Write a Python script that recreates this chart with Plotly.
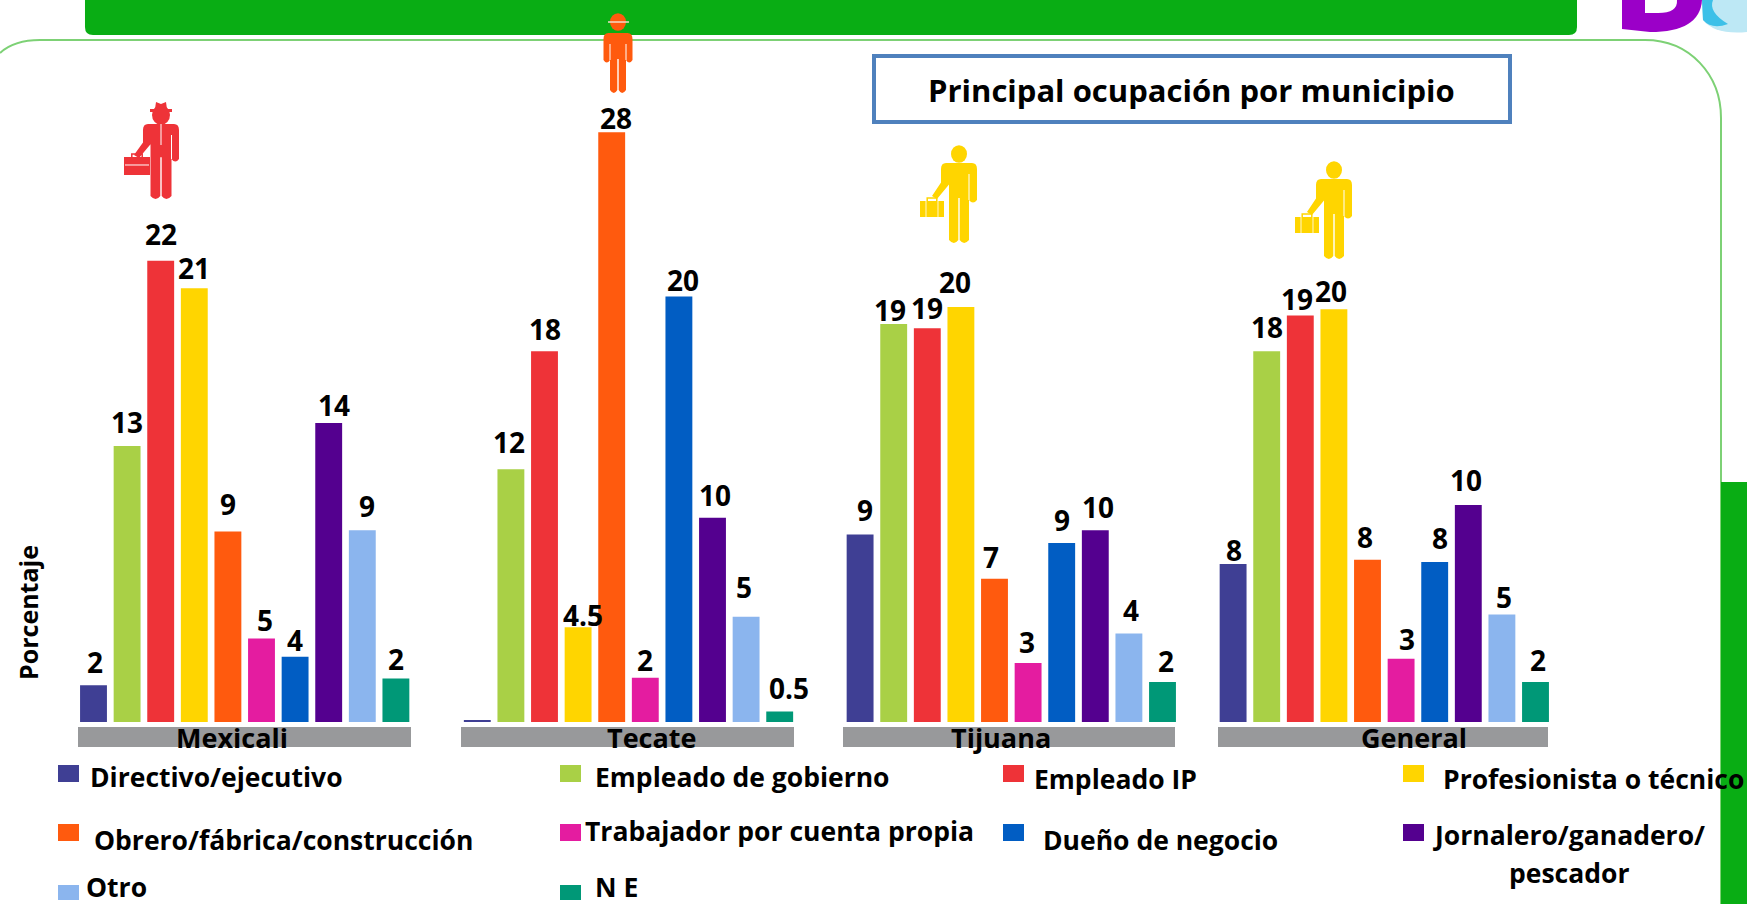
import plotly.graph_objects as go

W, H = 1747, 904

occupations = ["Directivo/ejecutivo", "Empleado de gobierno", "Empleado IP", "Profesionista o técnico",
               "Obrero/fábrica/construcción", "Trabajador por cuenta propia", "Dueño de negocio",
               "Jornalero/ganadero/ pescador", "Otro", "N E"]
municipalities = ["Mexicali", "Tecate", "Tijuana", "General"]

mexicali = [1.75, 13.1, 21.9, 20.6, 9.05, 3.97, 3.1, 14.2, 9.1, 2.06]
tecate = [0.1, 12.0, 17.6, 4.5, 28.0, 2.1, 20.2, 9.7, 5.0, 0.5]
tijuana = [8.9, 18.9, 18.7, 19.7, 6.8, 2.8, 8.5, 9.1, 4.2, 1.9]
general = [7.5, 17.6, 19.3, 19.6, 7.7, 3.0, 7.6, 10.3, 5.1, 1.9]

mexicali_labels = ["2", "13", "22", "21", "9", "5", "4", "14", "9", "2"]
tecate_labels = ["", "12", "18", "4.5", "28", "2", "20", "10", "5", "0.5"]
tijuana_labels = ["9", "19", "19", "20", "7", "3", "9", "10", "4", "2"]
general_labels = ["8", "18", "19", "20", "8", "3", "8", "10", "5", "2"]

y_title = "Porcentaje"
chart_title = "Principal ocupación por municipio"

# ---- styling / layout ----
FONT = "Open Sans"
colors = ["#3F3F94", "#A9D046", "#EE3338", "#FFD500", "#FF5A0E", "#E41CA0", "#015DC3", "#54008F", "#8BB5EE", "#009877"]
GREEN = "#09AD14"
S = 1.114
BASE = 722
PX_PER_UNIT = 21.06
domains = [(76.7, 412.7), (460.5, 796.5), (843.3, 1179.3), (1216.3, 1552.3)]
bands = [(78, 411), (461, 794), (843, 1175), (1218, 1548)]
band_text_x = [232, 651, 1001, 1414]
gaps = [[10, 11, 13, 7, 14, 6, 4, 5, 11, 7],
        [0, 14, 9, 0, 2, 5, 4, 10, 16, 10],
        [11, 2, 7, 12, 9, 8, 10, 10, 10, 8],
        [2, 11, 4, 6, 10, 7, 11, 12, 5, 9]]
nudges = [[1, 0, 0, 0, 0, 3, 0, 5, 4, 0],
          [0, -2, 0, 4, 4, 0, 4, 2, -2, 8],
          [4, -3, 0, -5, -3, -1, 0, 2, 2, 3],
          [1, 0, -3, -3, -2, 5, 5, -2, 2, 2]]
TEXT_DROP = 8


def X(x):
    return x / W


def Y(y):
    return 1 - y / H


def path(cmds):
    out = []
    for c in cmds:
        if isinstance(c, str):
            out.append(c)
        else:
            out.append(f"{X(c[0]):.5f},{Y(c[1]):.5f}")
    return " ".join(out)


shapes, annos = [], []


def rect(x0, y0, x1, y1, fill, line=None, lw=0):
    shapes.append(dict(type="rect", xref="paper", yref="paper", x0=X(x0), x1=X(x1), y0=Y(y0), y1=Y(y1),
                       fillcolor=fill, line=dict(color=line or fill, width=lw), layer="below"))


def shape_path(cmds, fill=None, line=None, lw=0, layer="above"):
    d = dict(type="path", xref="paper", yref="paper", path=path(cmds), layer=layer,
             line=dict(color=line or "rgba(0,0,0,0)", width=lw))
    if fill:
        d["fillcolor"] = fill
    shapes.append(d)


def text(x, y, s, size, anchor="left", angle=0):
    annos.append(dict(xref="paper", yref="paper", x=X(x), y=Y(y), text=s, showarrow=False, xanchor=anchor,
                      yanchor="middle", textangle=angle, font=dict(family=FONT, size=size, color="#000000"),
                      borderpad=0))


def ellipse(cx, cy, rx, ry, fill):
    shapes.append(dict(type="circle", xref="paper", yref="paper", x0=X(cx - rx), x1=X(cx + rx), y0=Y(cy - ry),
                       y1=Y(cy + ry), fillcolor=fill, line=dict(width=0), layer="above"))


def white_line(x0, y0, x1, y1, lw=1.0):
    shape_path(["M", (x0, y0), "L", (x1, y1)], line="#FFFFFF", lw=lw)


def person(cx, head_y, head_r, sh_y, sh_w, arm_b, leg_w, foot_y, color, case_side=True):
    ellipse(cx, head_y, head_r, head_r * 1.1, color)
    arm = sh_w - leg_w
    hip = sh_y + (arm_b - sh_y) * 0.9
    cmds = ["M", (cx - sh_w + 5, sh_y), "L", (cx + sh_w - 5, sh_y), "Q", (cx + sh_w, sh_y), (cx + sh_w, sh_y + 6),
            "L", (cx + sh_w, arm_b - 2), "Q", (cx + sh_w - arm / 2, arm_b + 3), (cx + leg_w, arm_b - 2),
            "L", (cx + leg_w, foot_y - 4),
            "Q", (cx + leg_w / 2, foot_y + 2), (cx + 0.7, foot_y - 4), "L", (cx + 0.7, hip), "L", (cx - 0.7, hip),
            "L", (cx - 0.7, foot_y - 4), "Q", (cx - leg_w / 2, foot_y + 2), (cx - leg_w, foot_y - 4),
            "L", (cx - leg_w, arm_b - 2)]
    if case_side:
        cmds += ["L", (cx - leg_w, sh_y + (arm_b - sh_y) * 0.55),
                 "L", (cx - sh_w - 4, arm_b - 3), "L", (cx - sh_w - 9, arm_b - 6),
                 "L", (cx - sh_w, sh_y + (arm_b - sh_y) * 0.5)]
    else:
        cmds += ["Q", (cx - sh_w + arm / 2, arm_b + 3), (cx - sh_w, arm_b - 2)]
    cmds += ["L", (cx - sh_w, sh_y + 6), "Q", (cx - sh_w, sh_y), (cx - sh_w + 5, sh_y), "Z"]
    shape_path(cmds, fill=color)
    white_line(cx + leg_w, sh_y + 11, cx + leg_w, arm_b - 2)
    if not case_side:
        white_line(cx - leg_w, sh_y + 11, cx - leg_w, arm_b - 2)


def case(x0, y0, x1, y1, c):
    hx0, hx1 = x0 + (x1 - x0) * 0.3, x0 + (x1 - x0) * 0.7
    shape_path(["M", (hx0, y0), "L", (hx0, y0 - 3), "L", (hx1, y0 - 3), "L", (hx1, y0)], line=c, lw=1.5)
    shape_path(["M", (x0, y0), "L", (x1, y0), "L", (x1, y1), "L", (x0, y1), "Z"], fill=c)


# ---- background ----
shape_path(["M", (85, 0), "L", (1577, 0), "L", (1577, 27), "Q", (1577, 35), (1569, 35), "L", (93, 35),
            "Q", (85, 35), (85, 27), "Z"], fill=GREEN, layer="below")
shape_path(["M", (0, 53), "Q", (14, 40), (40, 40), "L", (1645, 40), "C", (1690, 40), (1721, 75), (1721, 118),
            "L", (1721, 904)], line="#7DD175", lw=2, layer="below")
rect(1721, 482, W, H, GREEN)
shape_path(["M", (1622, 0), "L", (1702, 0), "Q", (1700, 32), (1650, 32), "L", (1622, 29), "Z"], fill="#9B00C8", layer="below")
shape_path(["M", (1645, 0), "L", (1677, 0), "Q", (1678, 13), (1658, 13), "L", (1645, 13), "Z"], fill="#FFFFFF", layer="below")
shape_path(["M", (1702, 0), "L", (W, 0), "L", (W, 32), "Q", (1715, 35), (1703, 20), "Z"], fill="#BDE8F5", layer="below")
shape_path(["M", (1702, 0), "L", (1713, 0), "Q", (1708, 12), (1728, 24), "Q", (1712, 30), (1703, 20), "Z"], fill="#3CC0E8", layer="below")

rect(874, 56, 1510, 122, "#FFFFFF", "#4F81BD", 4)
text(1191.5, 90, f"<b>{chart_title}</b>", 31, "center")
text(28, 613, f"<b>{y_title}</b>", 25, "center", -90)

# ---- bars ----
series = [mexicali, tecate, tijuana, general]
labels = [mexicali_labels, tecate_labels, tijuana_labels, general_labels]
fig = go.Figure()
layout_axes = {}
for i, (name, vals, labs) in enumerate(zip(municipalities, series, labels)):
    ax = "" if i == 0 else str(i + 1)
    fig.add_trace(go.Bar(x=occupations, y=vals, xaxis=f"x{ax}", yaxis="y", marker=dict(color=colors, line=dict(width=0)),
                         name=name, showlegend=False))
    layout_axes[f"xaxis{ax}"] = dict(domain=[X(domains[i][0]), X(domains[i][1])], anchor="y", type="category",
                                     categoryorder="array", categoryarray=occupations, range=[-0.5, 9.5],
                                     showticklabels=False, showgrid=False, zeroline=False, showline=False, ticks="")
    for j, lab in enumerate(labs):
        if lab:
            annos.append(dict(xref=f"x{ax}", yref="y", x=occupations[j], y=vals[j], text=f"<b>{lab}</b>",
                              showarrow=False, xanchor="center", yanchor="bottom", borderpad=0,
                              xshift=nudges[i][j] * S, yshift=gaps[i][j] * S - TEXT_DROP,
                              font=dict(family=FONT, size=28, color="#000000")))
    rect(bands[i][0], 727, bands[i][1], 747, "#98999B")
    text(band_text_x[i], 737, f"<b>{name}</b>", 27, "center")

# ---- legend ----
legend_rows = [
    (0, 58, 765, 89, 777), (1, 560, 765, 594, 777), (2, 1003, 765, 1033, 779), (3, 1403, 765, 1442, 779),
    (4, 58, 824, 93, 840), (5, 560, 824, 584, 831), (6, 1003, 824, 1042, 840), (7, 1403, 824, 1432, 835),
    (8, 58, 885, 85, 887), (9, 560, 885, 594, 887),
]
for idx, sx, sy, tx, ty in legend_rows:
    rect(sx, sy, sx + 21, sy + (15 if idx >= 8 else 17), colors[idx])
    label = occupations[idx].split(" pescador")[0]
    text(tx, ty, f"<b>{label}</b>", 26.5, "left")
text(1569, 873, "<b>pescador</b>", 26.5, "center")

# ---- pictograms ----
person(161, 115, 9, 124, 18, 161, 10.5, 200, "#EE3338")
shape_path(["M", (150, 109), "L", (172, 109), "L", (172, 112), "L", (150, 112), "Z"], fill="#EE3338")
shape_path(["M", (155, 109), "L", (156, 102), "L", (161, 104), "L", (166, 102), "L", (167, 109), "Z"], fill="#EE3338")
case(124, 157, 150, 175, "#EE3338")
white_line(161, 124, 161, 145)
white_line(125, 165, 149, 165)

person(618, 22, 8, 33, 14.5, 62, 8, 94, "#FF5A0E", case_side=False)
shape_path(["M", (608, 22), "L", (629, 22)], line="#F5DDC8", lw=1.5)

for dx, dy in [(0, 0), (375, 16)]:
    person(959 + dx, 154 + dy, 8, 163 + dy, 18, 202 + dy, 10, 244 + dy, "#FFD500")
    case(920 + dx, 201 + dy, 944 + dx, 217 + dy, "#FFD500")
    white_line(926 + dx, 201 + dy, 926 + dx, 217 + dy, 0.8)
    white_line(938 + dx, 201 + dy, 938 + dx, 217 + dy, 0.8)

fig.update_layout(width=W, height=H, margin=dict(l=0, r=0, t=0, b=0), autosize=False,
                  paper_bgcolor="#FFFFFF", plot_bgcolor="rgba(0,0,0,0)", bargap=0.2, showlegend=False,
                  yaxis=dict(domain=[Y(BASE), 1], range=[0, BASE / PX_PER_UNIT], visible=False, fixedrange=True),
                  shapes=shapes, annotations=annos, font=dict(family=FONT), **layout_axes)

fig.write_html("out.html", config=dict(displayModeBar=False),
               post_script="document.body.style.margin='0';document.body.style.overflow='hidden';")
